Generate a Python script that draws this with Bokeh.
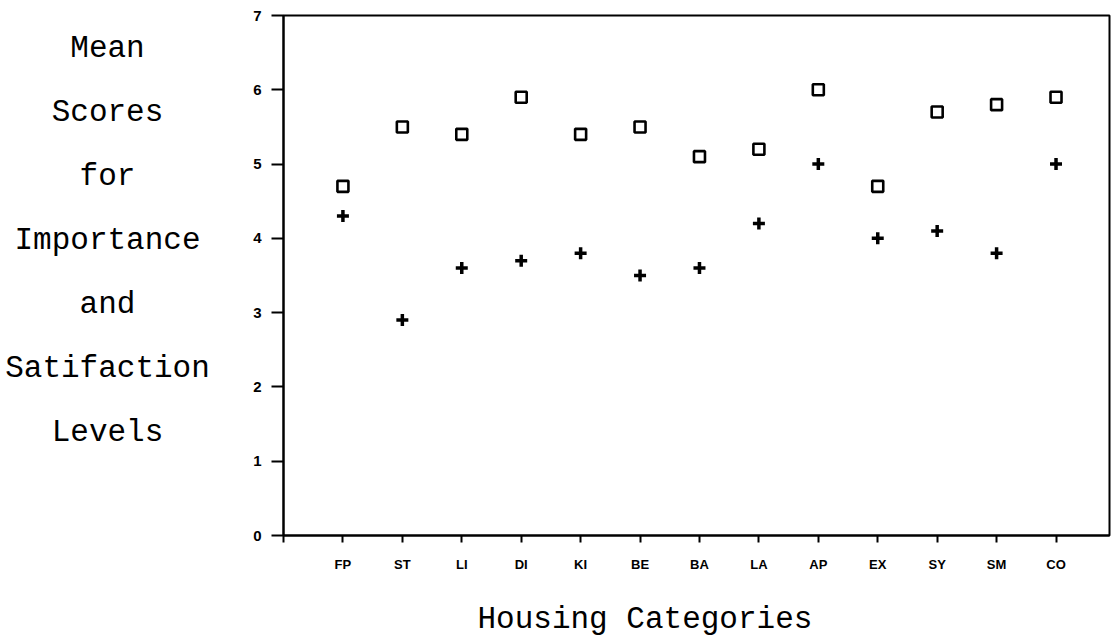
from bokeh.plotting import figure
from bokeh.models import FixedTicker, Range1d, Title, ColumnDataSource
from bokeh.layouts import row
from bokeh.core.properties import value
from bokeh.embed import file_html
from bokeh.resources import INLINE

categories = ["FP", "ST", "LI", "DI", "KI", "BE", "BA", "LA", "AP", "EX", "SY", "SM", "CO"]
importance = [4.7, 5.5, 5.4, 5.9, 5.4, 5.5, 5.1, 5.2, 6.0, 4.7, 5.7, 5.8, 5.9]
satisfaction = [4.3, 2.9, 3.6, 3.7, 3.8, 3.5, 3.6, 4.2, 5.0, 4.0, 4.1, 3.8, 5.0]
y_ticks = [0, 1, 2, 3, 4, 5, 6, 7]
y_title_lines = ["Mean", "Scores", "for", "Importance", "and", "Satifaction", "Levels"]
x_title = "Housing Categories"

xs = list(range(1, len(categories) + 1))

LEFT_W = 250
FRAME_H = 520
TOP = 15
BOTTOM = 103

y_range = Range1d(0, 7)

# ---- left panel with stacked y-title lines (frame aligned with main chart) ----
left = figure(frame_width=LEFT_W, frame_height=FRAME_H, output_backend="svg",
              toolbar_location=None, x_range=Range1d(0, LEFT_W), y_range=y_range,
              x_axis_location=None, y_axis_location=None,
              min_border_left=0, min_border_right=0, min_border_top=TOP,
              min_border_bottom=BOTTOM, outline_line_color=None)
left.grid.visible = False
n = len(y_title_lines)
px_per_unit = FRAME_H / 7.0
line_y = [(FRAME_H + TOP - (48 + 64 * k)) / px_per_unit for k in range(n)]
src = ColumnDataSource(dict(x=[107] * n, y=line_y, t=y_title_lines))
left.text(x="x", y="y", text="t", source=src, text_font=value("Liberation Mono"),
          text_font_size="31px", text_align="center", text_baseline="middle",
          text_color="black")

# ---- main chart ----
p = figure(frame_width=826, frame_height=FRAME_H, output_backend="svg", toolbar_location=None,
           x_range=Range1d(0, 13.9), y_range=y_range,
           min_border_left=281 - LEFT_W, min_border_right=2, min_border_top=TOP,
           min_border_bottom=BOTTOM)

p.grid.visible = False
p.outline_line_color = "black"
p.outline_line_width = 2

p.scatter(xs, importance, marker="square", size=11, fill_color="white",
          line_color="black", line_width=2.6)
p.scatter(xs, satisfaction, marker="cross", size=12, line_color="black", line_width=3.5)

# y axis
p.yaxis.ticker = FixedTicker(ticks=y_ticks)
p.yaxis.major_tick_out = 12
p.yaxis.major_tick_in = 0
p.yaxis.minor_tick_line_color = None
p.yaxis.axis_line_width = 2
p.yaxis.major_tick_line_width = 2
p.yaxis.major_label_text_font = "Liberation Sans"
p.yaxis.major_label_text_font_style = "bold"
p.yaxis.major_label_text_font_size = "15px"
p.yaxis.major_label_text_color = "black"
p.yaxis.major_label_standoff = 10

# x axis
p.xaxis.ticker = FixedTicker(ticks=[0] + xs)
overrides = {0: ""}
for i, c in zip(xs, categories):
    overrides[i] = c
p.xaxis.major_label_overrides = overrides
p.xaxis.major_tick_out = 7
p.xaxis.major_tick_in = 0
p.xaxis.minor_tick_line_color = None
p.xaxis.axis_line_width = 2
p.xaxis.major_tick_line_width = 2
p.xaxis.major_label_text_font = "Liberation Sans"
p.xaxis.major_label_text_font_style = "bold"
p.xaxis.major_label_text_font_size = "13px"
p.xaxis.major_label_text_color = "black"
p.xaxis.major_label_standoff = 14

p.add_layout(Title(text=x_title, align="left", offset=475 - 281, standoff=50,
                   text_font="Liberation Mono", text_font_style="normal",
                   text_font_size="31px", text_color="black"), "below")

layout = row(left, p, spacing=0)
open("out.html", "w").write(file_html(layout, INLINE))
